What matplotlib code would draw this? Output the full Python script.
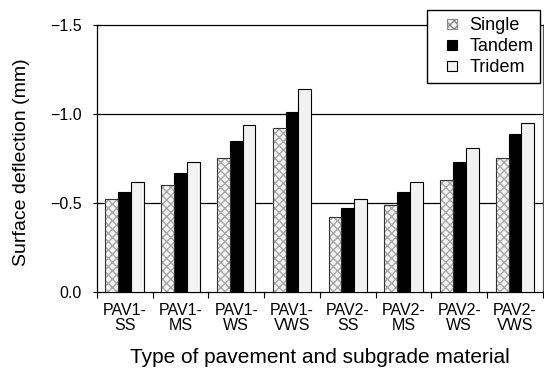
import matplotlib
matplotlib.use("Agg")
import matplotlib.pyplot as plt
import numpy as np
from matplotlib.patches import Patch, Rectangle
from matplotlib.legend_handler import HandlerPatch
from matplotlib import font_manager

plt.rcParams['font.family'] = ['Liberation Sans', 'DejaVu Sans']

categories = ["PAV1-\nSS", "PAV1-\nMS", "PAV1-\nWS", "PAV1-\nVWS",
              "PAV2-\nSS", "PAV2-\nMS", "PAV2-\nWS", "PAV2-\nVWS"]
single = [-0.52, -0.60, -0.75, -0.92, -0.42, -0.49, -0.63, -0.75]
tandem = [-0.56, -0.67, -0.85, -1.01, -0.47, -0.56, -0.73, -0.89]
tridem = [-0.62, -0.73, -0.94, -1.14, -0.52, -0.62, -0.81, -0.95]
yticks = [0.0, -0.5, -1.0, -1.5]
ytick_labels = ["0.0", "\u22120.5", "\u22121.0", "\u22121.5"]

# narrow font for the category labels if it is there
names = {f.name for f in font_manager.fontManager.ttflist}
narrow = 'Liberation Sans Narrow' if 'Liberation Sans Narrow' in names else 'Liberation Sans'

fig = plt.figure(figsize=(5.44, 3.78), dpi=100)
ax = fig.add_axes([0.178, 0.2275, 0.82, 0.7065])

x = np.arange(len(categories))
w = 0.23

# Single: hatched fill, then an outline on top
ax.bar(x - w, single, w, color='#f4f4f4', edgecolor='#a8a8a8', hatch='xxxx', linewidth=0, zorder=3)
ax.bar(x - w, single, w, fill=False, edgecolor='#333333', linewidth=0.8, zorder=4)
ax.bar(x, tandem, w, color='black', edgecolor='black', linewidth=0.8, zorder=3)
ax.bar(x + w, tridem, w, color='#f2f2f2', edgecolor='black', linewidth=0.8, zorder=3)


def small_square(legend, orig_handle, xdescent, ydescent, width, height, fontsize):
    s = 10 * 72 / 100.0
    return Rectangle((width - s - xdescent, (height - s) / 2 - ydescent), s, s)


handles = [Patch(facecolor='#f4f4f4', edgecolor='#888888', hatch='xxxx', linewidth=0.8),
           Patch(facecolor='black', edgecolor='black', linewidth=0.8),
           Patch(facecolor='#f2f2f2', edgecolor='black', linewidth=0.8)]
leg = fig.legend(handles, ["Single", "Tandem", "Tridem"], loc='upper right',
                 bbox_to_anchor=(540 / 544, 1 - 10 / 378), borderaxespad=0, fontsize=13,
                 frameon=True, fancybox=False, framealpha=1, edgecolor='black',
                 handlelength=1.3, handleheight=0.8, handletextpad=0.65,
                 labelspacing=0.22, borderpad=0.38,
                 handler_map={Patch: HandlerPatch(patch_func=small_square)})
leg.get_frame().set_linewidth(1.0)

ax.set_ylim(0, -1.5)
ax.set_xlim(-0.5, len(categories) - 0.5)
ax.set_yticks(yticks)
ax.set_yticklabels(ytick_labels, fontsize=11.5)
for yv in [-0.5, -1.0]:
    ax.axhline(yv, color='black', linewidth=0.9, zorder=1)

ax.set_xticks(x)
ax.set_xticklabels(categories, fontsize=11.5, linespacing=1.0, family=[narrow, 'DejaVu Sans'])
ax.tick_params(axis='x', which='major', length=0, pad=8)
ax.set_xticks(np.arange(-0.5, len(categories)), minor=True)
ax.tick_params(axis='x', which='minor', length=4, direction='out', width=0.8)
ax.tick_params(axis='y', length=6, direction='inout', width=0.8, pad=8)

for s in ax.spines.values():
    s.set_linewidth(0.9)
ax.spines['right'].set_color('#555555')

fig.text(22 / 544, 1 - 162 / 378, "Surface deflection (mm)", rotation=90,
         ha='center', va='center', fontsize=14)
fig.text(320 / 544, 1 - 363 / 378, "Type of pavement and subgrade material",
         ha='center', va='baseline', fontsize=15)

fig.savefig("out.png", dpi=100)
